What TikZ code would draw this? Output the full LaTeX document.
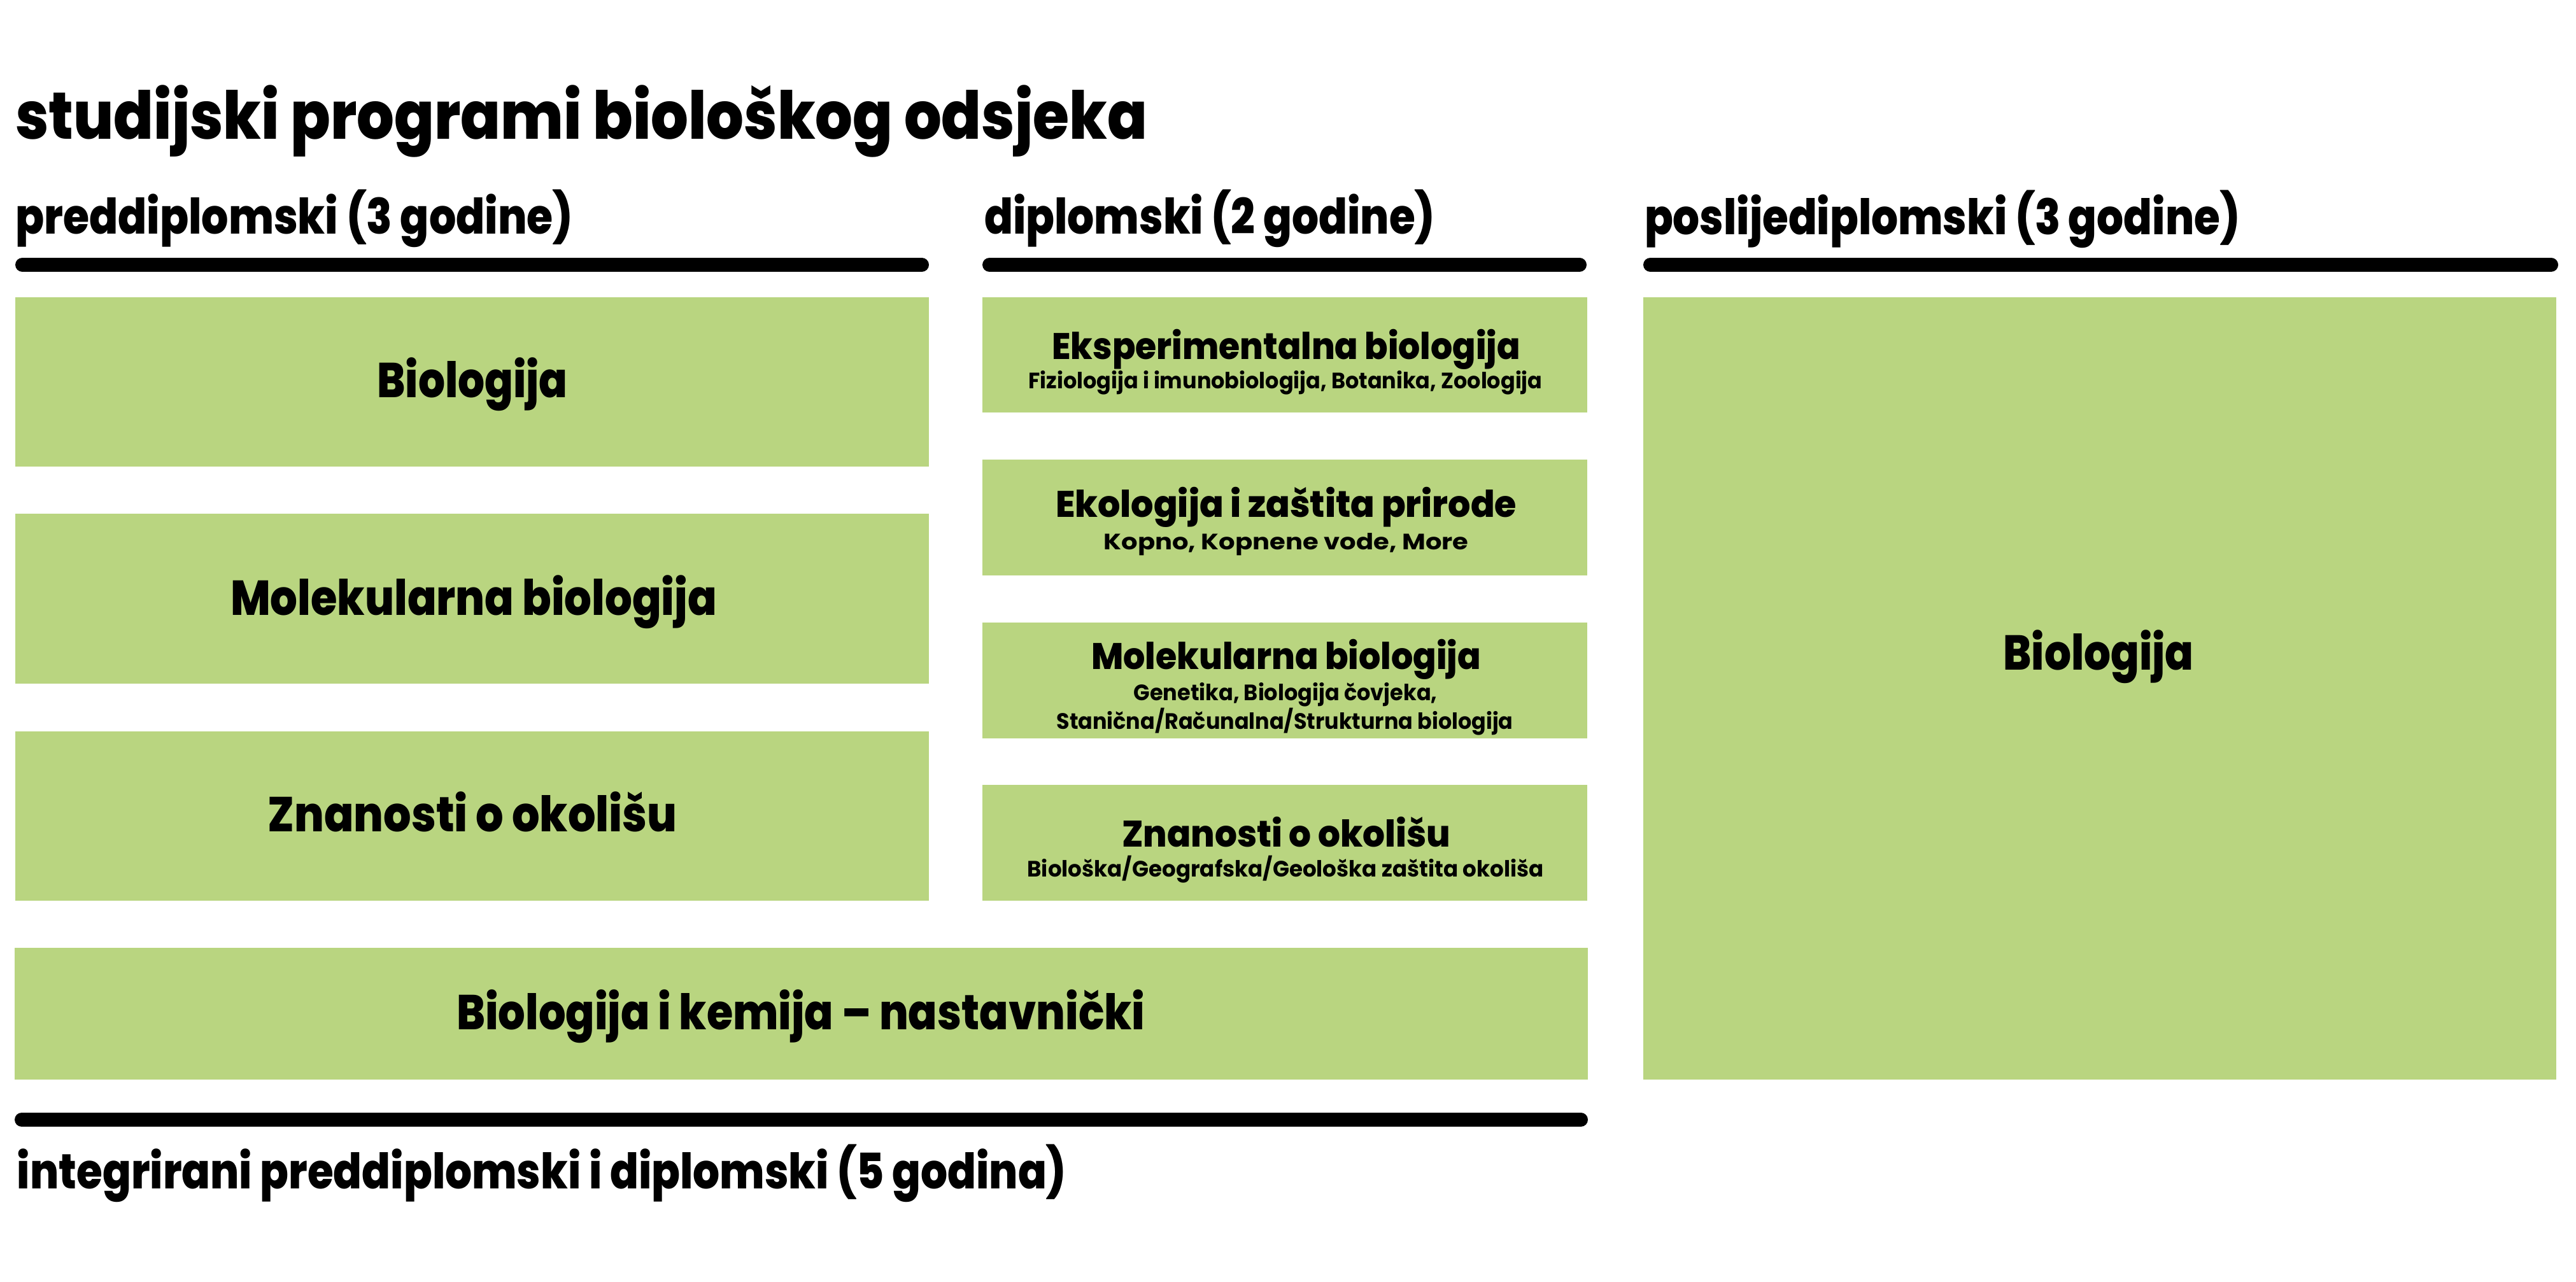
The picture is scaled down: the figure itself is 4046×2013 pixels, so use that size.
\documentclass[tikz,border=0pt]{standalone}
\usepackage{fontspec}
\usepackage{graphicx}
\setmainfont{Poppins}
\newfontfamily\headfont{Poppins ExtraBold}
\newfontfamily\subfont{Poppins Bold}
\definecolor{boxgreen}{HTML}{B9D580}
\newcommand{\fitw}[2]{\resizebox{#1}{\height}{#2}}
\tikzset{
  box/.style={fill=boxgreen, draw=none, inner sep=0pt, outer sep=0pt, anchor=north west},
  rule/.style={line width=22pt, line cap=round, draw=black},
  hd/.style={anchor=base west, inner sep=0pt, outer sep=0pt},
  lbl/.style={anchor=base, inner sep=0pt, outer sep=0pt},
}
\begin{document}
\begin{tikzpicture}[x=1pt,y=-1pt]
\useasboundingbox[fill=white] (0,0) rectangle (4046,2013);

% title and headers
\node[hd] (title) at (24,218) {\fontsize{104}{104}\selectfont\headfont\fitw{1778pt}{studijski programi biološkog odsjeka}};
\node[hd] (hpre) at (24,367) {\fontsize{77}{77}\selectfont\headfont\fitw{876pt}{preddiplomski (3 godine)}};
\node[hd] (hdip) at (1546,367) {\fontsize{77}{77}\selectfont\headfont\fitw{708pt}{diplomski (2 godine)}};
\node[hd] (hpost) at (2583,368) {\fontsize{77}{77}\selectfont\headfont\fitw{935pt}{poslijediplomski (3 godine)}};

% rules
\coordinate (r1a) at (35,416);   \coordinate (r1b) at (1448,416);
\coordinate (r2a) at (1554,416); \coordinate (r2b) at (2481,416);
\coordinate (r3a) at (2592,416); \coordinate (r3b) at (4007,416);
\coordinate (r4a) at (34,1759);  \coordinate (r4b) at (2483,1759);
\draw[rule] (r1a) -- (r1b);
\draw[rule] (r2a) -- (r2b);
\draw[rule] (r3a) -- (r3b);
\draw[rule] (r4a) -- (r4b);

% left column boxes
\node[box, minimum width=1435pt, minimum height=266pt] (L1) at (24,467) {};
\node[box, minimum width=1435pt, minimum height=267pt] (L2) at (24,807) {};
\node[box, minimum width=1435pt, minimum height=266pt] (L3) at (24,1149) {};
% middle column boxes
\node[box, minimum width=950pt, minimum height=181pt] (M1) at (1543,467) {};
\node[box, minimum width=950pt, minimum height=182pt] (M2) at (1543,722) {};
\node[box, minimum width=950pt, minimum height=182pt] (M3) at (1543,978) {};
\node[box, minimum width=950pt, minimum height=182pt] (M4) at (1543,1233) {};
% right box
\node[box, minimum width=1434pt, minimum height=1229pt] (R1) at (2581,467) {};
% bottom box
\node[box, minimum width=2471pt, minimum height=207pt] (B1) at (23,1489) {};

% left labels
\node[lbl] (tL1) at (742,624) {\fontsize{77}{77}\selectfont\headfont\fitw{299pt}{Biologija}};
\node[lbl] (tL2) at (744,966) {\fontsize{77}{77}\selectfont\headfont\fitw{764pt}{Molekularna biologija}};
\node[lbl] (tL3) at (742,1306) {\fontsize{77}{77}\selectfont\headfont\fitw{643pt}{Znanosti o okolišu}};
% bottom label
\node[lbl] (tB1) at (1258,1617) {\fontsize{77}{77}\selectfont\headfont\fitw{1081pt}{Biologija i kemija – nastavnički}};
% right label
\node[lbl] (tR1) at (3296,1052) {\fontsize{77}{77}\selectfont\headfont\fitw{299pt}{Biologija}};

% middle labels
\node[lbl] (tM1) at (2020,564) {\fontsize{58}{58}\selectfont\headfont\fitw{735pt}{Eksperimentalna biologija}};
\node[lbl] (sM1) at (2019,610) {\fontsize{35}{35}\selectfont\subfont\fitw{807pt}{Fiziologija i imunobiologija, Botanika, Zoologija}};
\node[lbl] (tM2) at (2020,812) {\fontsize{58}{58}\selectfont\headfont\fitw{724pt}{Ekologija i zaštita prirode}};
\node[lbl] (sM2) at (2020,863) {\fontsize{35}{35}\selectfont\subfont\fitw{573pt}{Kopno, Kopnene vode, More}};
\node[lbl] (tM3) at (2020,1051) {\fontsize{58}{58}\selectfont\headfont\fitw{612pt}{Molekularna biologija}};
\node[lbl] (sM3a) at (2019,1100) {\fontsize{35}{35}\selectfont\subfont\fitw{477pt}{Genetika, Biologija čovjeka,}};
\node[lbl] (sM3b) at (2018,1145) {\fontsize{35}{35}\selectfont\subfont\fitw{717pt}{Stanična/Računalna/Strukturna biologija}};
\node[lbl] (tM4) at (2020,1330) {\fontsize{58}{58}\selectfont\headfont\fitw{516pt}{Znanosti o okolišu}};
\node[lbl] (sM4) at (2019,1377) {\fontsize{35}{35}\selectfont\subfont\fitw{811pt}{Biološka/Geografska/Geološka zaštita okoliša}};

% bottom header
\node[hd] (hint) at (27,1867) {\fontsize{77}{77}\selectfont\headfont\fitw{1648pt}{integrirani preddiplomski i diplomski (5 godina)}};
\end{tikzpicture}
\end{document}
